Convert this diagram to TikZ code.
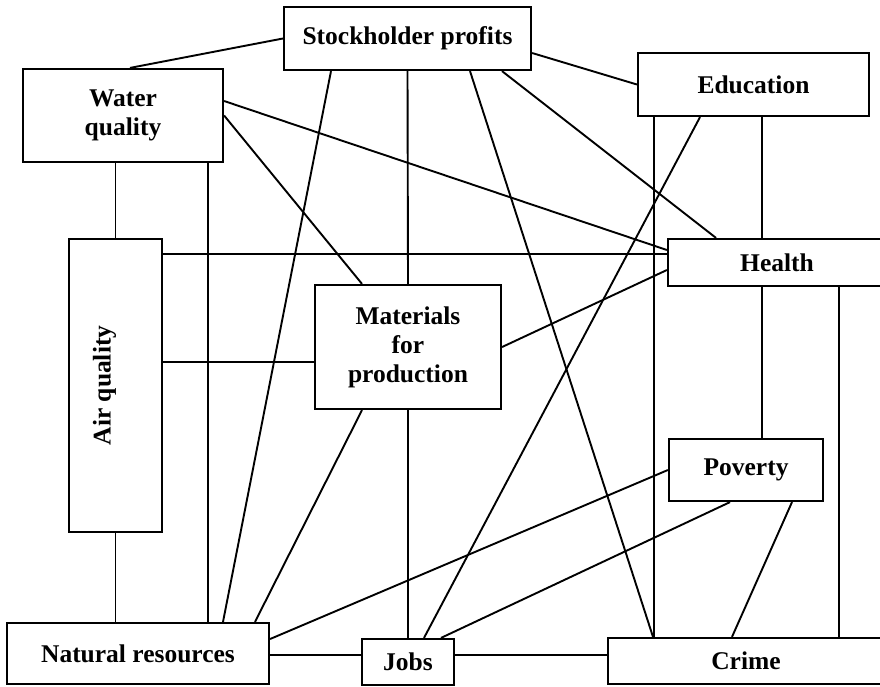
\documentclass[tikz,border=0pt]{standalone}
\usepackage{fontspec}
\usepackage{graphicx}
\setmainfont{Liberation Serif}
\begin{document}
\begin{tikzpicture}[x=1pt,y=-1pt,
  box/.style={draw,line width=2.2pt,inner sep=0pt,align=center,
    font=\fontsize{25.5}{29}\selectfont\bfseries},
  link/.style={line width=1.9pt}]
  \useasboundingbox (0,0) rectangle (880,686);
  \clip (0,0) rectangle (880,686);
  % boxes
  \node[box,minimum width=247pt,minimum height=63pt] (sp) at (407.5,38.5) {Stockholder profits};
  \node[box,minimum width=200pt,minimum height=93pt] (wq) at (123,115.5) {Water\\quality};
  \node[box,minimum width=231pt,minimum height=63pt] (ed) at (753.5,84.5) {Education};
  \node[box,minimum width=93pt,minimum height=293pt] (aq) at (115.5,385.5) {\rotatebox{90}{Air quality}\hspace*{22pt}};
  \node[box,minimum width=218pt,minimum height=47pt] (he) at (777,262.5) {Health};
  \node[box,minimum width=186pt,minimum height=124pt] (mp) at (408,347) {Materials\\for\\production};
  \node[box,minimum width=154pt,minimum height=62pt] (po) at (746,470) {Poverty};
  \node[box,minimum width=262pt,minimum height=61pt] (nr) at (138,653.5) {Natural resources};
  \node[box,minimum width=92pt,minimum height=46pt] (jo) at (408,662) {Jobs};
  \node[box,minimum width=276pt,minimum height=46pt] (cr) at (746,661) {Crime};
  % links
  \draw[link] (sp.west) -- ([xshift=7pt]wq.north);
  \draw[link] ([yshift=-14.5pt]sp.east) -- (ed.west);
  \draw[link] ([yshift=14.5pt]wq.east) -- ([yshift=12.5pt]he.west);
  \draw[link] (wq.east) -- ([xshift=-46pt]mp.north);
  \draw[link] (aq.north) -- (aq.north |- wq.south);
  \draw[link] ([xshift=85pt]wq.south) -- ([xshift=70pt]nr.north);
  \draw[link] ([yshift=131.5pt]aq.east) -- ([yshift=8.5pt]he.west);
  \draw[link] ([yshift=23.5pt]aq.east) -- ([yshift=-15pt]mp.west);
  \draw[link] (aq.south) -- (aq.south |- nr.north);
  \draw[link] ([xshift=-76.5pt]sp.south) -- ([xshift=85pt]nr.north);
  \draw[link] ([xshift=-46pt]mp.south) -- ([xshift=117pt]nr.north);
  \draw[link] (sp.south) -- (mp.north);
  \draw[link] (mp.south) -- (jo.north);
  \draw[link] ([xshift=62.5pt]sp.south) -- ([xshift=-93pt]cr.north);
  \draw[link] ([xshift=94.5pt]sp.south) -- ([xshift=-61pt]he.north);
  \draw[link] ([xshift=-99.5pt]ed.south) -- ([xshift=-92pt]cr.north);
  \draw[link] ([xshift=-53.5pt]ed.south) -- ([xshift=16pt]jo.north);
  \draw[link] ([xshift=8.5pt]ed.south) -- ([xshift=-15pt]he.north);
  \draw[link] (mp.east) -- ([yshift=-7.5pt]he.west);
  \draw[link] ([xshift=-15pt]he.south) -- ([xshift=16pt]po.north);
  \draw[link] ([xshift=62pt]he.south) -- ([xshift=93pt]cr.north);
  \draw[link] (po.west) -- ([yshift=14.5pt]nr.east);
  \draw[link] ([xshift=-16pt]po.south) -- ([xshift=33pt]jo.north);
  \draw[link] ([xshift=46pt]po.south) -- ([xshift=-14pt]cr.north);
  \draw[link] ([yshift=-1.5pt]nr.east) -- ([yshift=7pt]jo.west);
  \draw[link] ([yshift=7pt]jo.east) -- ([yshift=6pt]cr.west);
\end{tikzpicture}
\end{document}
